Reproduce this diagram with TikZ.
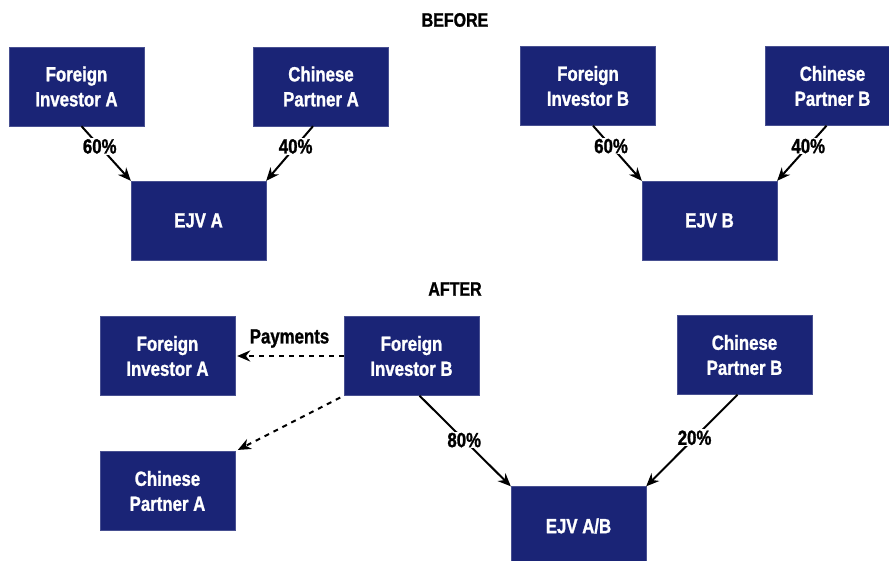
\documentclass[tikz,border=0pt]{standalone}
\usepackage{fontspec}
\setmainfont{Liberation Sans}[FakeStretch=0.82, BoldFeatures={FakeBold=1.2}]
\usepackage{xcolor}
\usepackage{tikz}
\usetikzlibrary{arrows.meta, positioning, calc}
\definecolor{navy}{RGB}{26,36,118}

\begin{document}
\begin{tikzpicture}[x=1pt, y=-1pt, >={Stealth[length=13pt, width=11pt]}]
    \tikzstyle{party} = [rectangle, fill=navy, draw=navy!80!white, thin, text=white, inner sep=0pt, minimum width=135pt, minimum height=79pt, align=center, font=\fontsize{20.5}{25}\selectfont\bfseries]
    \tikzstyle{share} = [fill=white, inner sep=1pt, font=\fontsize{20.5}{22}\selectfont\bfseries]
    \tikzstyle{title} = [font=\fontsize{19.5}{20}\selectfont\bfseries]
    \tikzstyle{own}   = [->, line width=2pt]
    \tikzstyle{pay}   = [->, line width=2pt, dash pattern=on 5pt off 5pt]

    \clip (0,0) rectangle (889,561);
    \fill[white] (0,0) rectangle (889,561);

    % before
    \node (before) [title] at (455,20) {BEFORE};
    \node (fiA) [party] at (76.5,86.5)  {Foreign\\Investor A};
    \node (cpA) [party] at (321,86.5)   {Chinese\\Partner A};
    \node (ejvA)[party] at (198.5,220.5){EJV A};
    \node (fiB) [party] at (588,86)     {Foreign\\Investor B};
    \node (cpB) [party] at (832.5,86)   {Chinese\\Partner B};
    \node (ejvB)[party] at (709.5,220.5){EJV B};

    \draw [own] ([xshift=5pt]fiA.south)  -- node[share, pos=0.37] {60\%} (ejvA.north west);
    \draw [own] ([xshift=-8pt]cpA.south) -- node[share, pos=0.37] {40\%} (ejvA.north east);
    \draw [own] ([xshift=5pt]fiB.south)  -- node[share, pos=0.37] {60\%} (ejvB.north west);
    \draw [own] ([xshift=-6pt]cpB.south) -- node[share, pos=0.37] {40\%} (ejvB.north east);

    % after
    \node (after) [title] at (455,289) {AFTER};
    \node (fiA2) [party] at (167.5,356) {Foreign\\Investor A};
    \node (fiB2) [party] at (411.5,356) {Foreign\\Investor B};
    \node (cpA2) [party] at (167.5,491) {Chinese\\Partner A};
    \node (cpB2) [party] at (744.5,355) {Chinese\\Partner B};
    \node (ejvAB)[party] at (578.5,526) {EJV A/B};

    \draw [pay, shorten >=2pt] (fiB2.west) -- node[above=4pt, font=\fontsize{20.5}{22}\selectfont\bfseries] {Payments} (fiA2.east);
    \draw [pay, shorten >=3pt, shorten <=4pt] (fiB2.south west) -- (cpA2.north east);
    \draw [own] ([xshift=8pt]fiB2.south)  -- node[share, pos=0.49] {80\%} (ejvAB.north west);
    \draw [own] ([xshift=-7pt]cpB2.south) -- node[share, pos=0.47] {20\%} (ejvAB.north east);
\end{tikzpicture}
\end{document}
